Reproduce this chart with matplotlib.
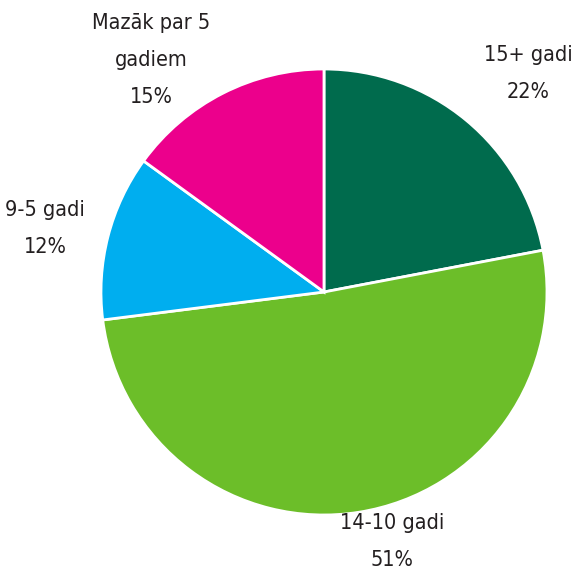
import matplotlib.pyplot as plt

# 数据
labels = ['15+ gadi', '14-10 gadi', '9-5 gadi', 'Mazāk par 5\ngadiem']
shares = [22, 51, 12, 15]
colors = ['#006B4D', '#6CBE29', '#00AEEF', '#EC008C']

# 标签位置（以半径为单位）
label_pos = [(0.915, 0.98), (0.305, -1.12), (-1.251, 0.285), (-0.776, 1.04)]

plt.rcParams['font.family'] = ['DejaVu Sans']

fig = plt.figure(figsize=(5.77, 5.74), dpi=100)
ax = fig.add_axes([0.175, 0.1028, 0.773, 0.777])

ax.pie(
    shares,
    colors=colors,
    startangle=90,
    counterclock=False,
    radius=1,
    wedgeprops={'edgecolor': 'white', 'linewidth': 2},
)

for lab, val, (x, y) in zip(labels, shares, label_pos):
    ax.text(x, y, f'{lab}\n{val}%', ha='center', va='center',
            fontsize=15.5, fontstretch='condensed', linespacing=2.05,
            color='#231F20', clip_on=False)

ax.set_xlim(-1, 1)
ax.set_ylim(-1, 1)
ax.set_aspect('equal')
ax.axis('off')

fig.savefig('out.png', dpi=100)
